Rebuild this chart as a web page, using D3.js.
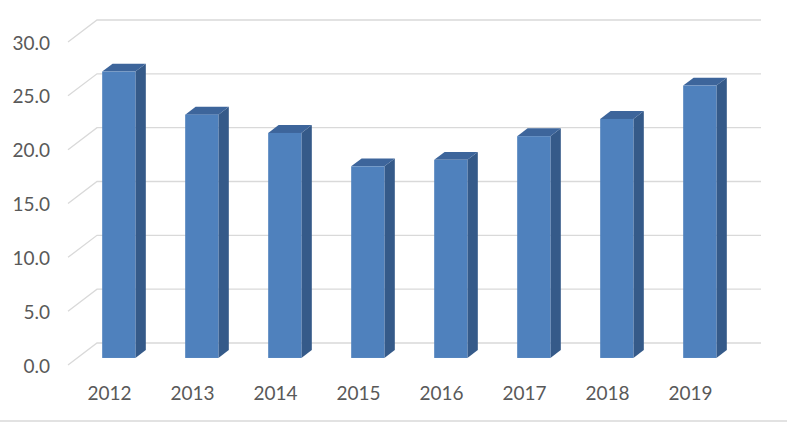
<!DOCTYPE html>
<html>
<head>
<meta charset="utf-8">
<script src="https://cdn.jsdelivr.net/npm/d3@7"></script>
<style>
  html, body { margin: 0; padding: 0; background: #fff; }
  svg { display: block; }
  text { font-family: Lato, "Open Sans", sans-serif; fill: #595959; }
</style>
</head>
<body>
<svg id="chart" width="787" height="422"></svg>
<script>
const categories = ["2012", "2013", "2014", "2015", "2016", "2017", "2018", "2019"];
const values = [26.6, 22.6, 20.9, 17.8, 18.4, 20.6, 22.2, 25.3];
const yTicks = [0, 5, 10, 15, 20, 25, 30];

const svg = d3.select("#chart");
const W = 787, H = 422;

// back-wall plane scales
const x = d3.scaleBand().domain(categories).range([97, 761]).paddingInner(0.6).paddingOuter(0.3);
const y = d3.scaleLinear().domain([0, 30]).range([343, 20]);

// depth vector (back plane -> front plane)
const DX = -29, DY = 22;
const barBack = 0.32, barFront = 0.68;

// gridlines
const grid = svg.append("g").attr("stroke", "#d9d9d9").attr("stroke-width", 1.3).attr("fill", "none");
yTicks.forEach(t => {
  const yy = y(t);
  grid.append("path").attr("d", `M${x.range()[1]},${yy}H${x.range()[0]}L${x.range()[0] + DX},${yy + DY}`);
});

// bottom border
svg.append("line").attr("x1", 0).attr("x2", W).attr("y1", 421).attr("y2", 421)
  .attr("stroke", "#d9d9d9").attr("stroke-width", 1.3);

// y labels
svg.append("g").selectAll("text").data(yTicks).join("text")
  .attr("x", 50).attr("y", d => y(d) + DY)
  .attr("text-anchor", "end").attr("dominant-baseline", "central")
  .style("font-size", "19px")
  .text(d => d.toFixed(1));

// x labels
svg.append("g").selectAll("text").data(categories).join("text")
  .attr("x", d => x(d) + x.bandwidth() / 2 + DX)
  .attr("y", 392)
  .attr("text-anchor", "middle").attr("dominant-baseline", "central")
  .style("font-size", "19px")
  .text(d => d);

// bars
const bw = x.bandwidth();
const fx = DX * barFront, fy = DY * barFront;
const bx = DX * barBack, by = DY * barBack;
const ox = bx - fx, oy = by - fy; // front -> back offset
const bars = svg.append("g").selectAll("g").data(categories.map((c, i) => ({c, v: values[i]}))).join("g");
bars.each(function(d) {
  const g = d3.select(this);
  const x0 = x(d.c) + fx, x1 = x0 + bw;
  const yb = y(0) + fy, yt = y(d.v) + fy;
  // side
  g.append("path").attr("fill", "#355a89")
    .attr("d", `M${x1},${yt}L${x1 + ox},${yt + oy}L${x1 + ox},${yb + oy}L${x1},${yb}Z`);
  // top
  g.append("path").attr("fill", "#3d659b")
    .attr("d", `M${x0},${yt}L${x0 + ox},${yt + oy}L${x1 + ox},${yt + oy}L${x1},${yt}Z`);
  // front
  g.append("rect").attr("fill", "#4f81bd")
    .attr("x", x0).attr("y", yt).attr("width", bw).attr("height", yb - yt);
});
</script>
</body>
</html>
